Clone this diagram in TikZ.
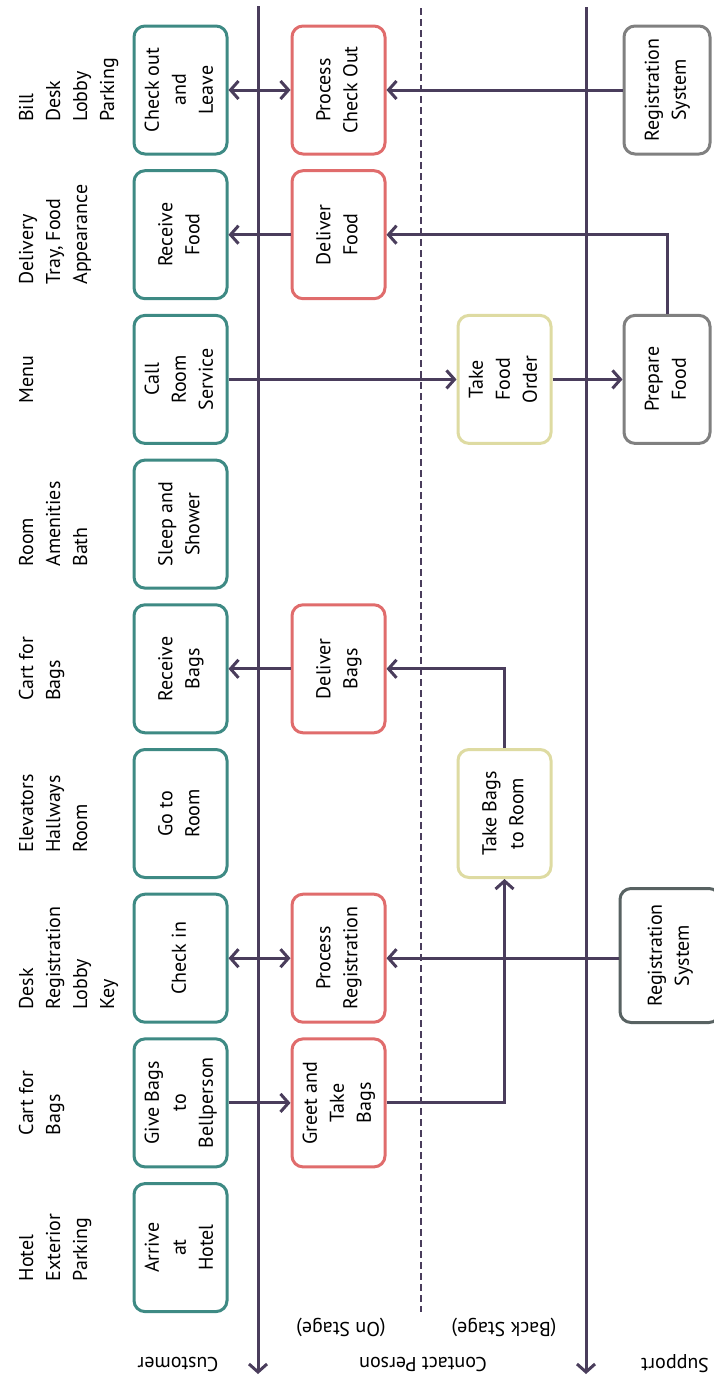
\documentclass[tikz,border=0pt]{standalone}
\usepackage{fontspec}
\setmainfont{PT Sans}
\usepackage{graphicx}
\usetikzlibrary{arrows.meta}
\definecolor{custc}{HTML}{3E8A84}
\definecolor{stagec}{HTML}{E06C6C}
\definecolor{backc}{HTML}{DEDBA2}
\definecolor{suppc}{HTML}{808080}
\definecolor{suppd}{HTML}{586262}
\definecolor{linec}{HTML}{4A3D5C}
\newcommand\rt[1]{\rotatebox{90}{\begin{tabular}{@{}c@{}}#1\end{tabular}}}
\newcommand\rl[1]{\rotatebox{90}{\begin{tabular}{@{}l@{}}#1\end{tabular}}}
\begin{document}
\begin{tikzpicture}[x=1pt,y=-1pt,
  font=\fontsize{20}{27}\selectfont,
  box/.style={draw, rounded corners=11pt, line width=3pt, minimum width=93pt, minimum height=128pt, inner sep=0pt, fill=white},
  cust/.style={box, draw=custc},
  stage/.style={box, draw=stagec},
  backb/.style={box, draw=backc},
  supp/.style={box, draw=suppc, minimum width=86pt},
  suppdark/.style={box, draw=suppd, minimum width=100pt, minimum height=134pt},
  hdr/.style={anchor=west, inner sep=0pt},
  lane/.style={rotate=180, inner sep=0pt},
  conn/.style={line width=3pt, draw=linec},
  arr/.style={conn, -{Straight Barb[length=8pt,width=18pt]}},
  darr/.style={conn, {Straight Barb[length=8pt,width=18pt]}-{Straight Barb[length=8pt,width=18pt]}}
]
\useasboundingbox (0,0) rectangle (713,1376);

% lane lines
\coordinate (loiT) at (258,6);
\coordinate (loiB) at (258,1374);
\coordinate (lovT) at (421,8);
\coordinate (lovB) at (421,1312);
\coordinate (liiT) at (586,7);
\coordinate (liiB) at (586,1374);
\draw[arr] (loiT) -- (loiB);
\draw[arr] (liiT) -- (liiB);
\draw[linec, line width=1.3pt, dash pattern=on 7pt off 4pt] (lovT) -- (lovB);

% headers
\node[hdr] (h8) at (14,1247.6) {\rl{Hotel\\Exterior\\Parking}};
\node[hdr] (h7) at (14,1102.9) {\rl{Cart for\\Bags}};
\node[hdr] (h6) at (14,958.2) {\rl{Desk\\Registration\\Lobby\\Key}};
\node[hdr] (h5) at (14,813.5) {\rl{Elevators\\Hallways\\Room}};
\node[hdr] (h4) at (14,668.8) {\rl{Cart for\\Bags}};
\node[hdr] (h3) at (14,524.1) {\rl{Room\\Amenities\\Bath}};
\node[hdr] (h2) at (14,379.4) {\rl{Menu}};
\node[hdr] (h1) at (14,234.7) {\rl{Delivery\\Tray, Food\\Appearance}};
\node[hdr] (h0) at (14,90) {\rl{Bill\\Desk\\Lobby\\Parking}};

% customer actions
\node[cust] (c8) at (180.5,1247.6) {\rt{Arrive\\at\\Hotel}};
\node[cust] (c7) at (180.5,1102.9) {\rt{Give Bags\\to\\Bellperson}};
\node[cust] (c6) at (180.5,958.2) {\rt{Check in}};
\node[cust] (c5) at (180.5,813.5) {\rt{Go to\\Room}};
\node[cust] (c4) at (180.5,668.8) {\rt{Receive\\Bags}};
\node[cust] (c3) at (180.5,524.1) {\rt{Sleep and\\Shower}};
\node[cust] (c2) at (180.5,379.4) {\rt{Call\\Room\\Service}};
\node[cust] (c1) at (180.5,234.7) {\rt{Receive\\Food}};
\node[cust] (c0) at (180.5,90) {\rt{Check out\\and\\Leave}};

% on stage
\node[stage] (s7) at (338.5,1102.9) {\rt{Greet and\\Take\\Bags}};
\node[stage] (s6) at (338.5,958.2) {\rt{Process\\Registration}};
\node[stage] (s4) at (338.5,668.8) {\rt{Deliver\\Bags}};
\node[stage] (s1) at (338.5,234.7) {\rt{Deliver\\Food}};
\node[stage] (s0) at (338.5,90) {\rt{Process\\Check Out}};

% back stage
\node[backb] (b5) at (504.5,813.5) {\rt{Take Bags\\to Room}};
\node[backb] (b2) at (504.5,379.4) {\rt{Take\\Food\\Order}};

% support
\node[suppdark] (p6) at (670,955.5) {\rt{Registration\\System}};
\node[supp] (p2) at (667,379.4) {\rt{Prepare\\Food}};
\node[supp] (p0) at (667,90) {\rt{Registration\\System}};

% connectors
\draw[darr] (c0.east) -- (s0.west);
\draw[arr] (p0.west) -- (s0.east);
\draw[arr] (s1.west) -- (c1.east);
\draw[arr] (p2.north) |- (s1.east);
\draw[arr] (c2.east) -- (b2.west);
\draw[arr] (b2.east) -- (p2.west);
\draw[arr] (s4.west) -- (c4.east);
\draw[arr] (b5.north) |- (s4.east);
\draw[darr] (c6.east) -- (s6.west);
\draw[arr] (p6.west |- s6.east) -- (s6.east);
\draw[arr] (c7.east) -- (s7.west);
\draw[arr] (s7.east) -| (b5.south);

% lane labels
\node[lane] (lc) at (178,1364) {Customer};
\node[lane] (lp) at (423,1364) {Contact Person};
\node[lane] (lo) at (341,1327) {(On Stage)};
\node[lane] (lb) at (504,1327) {(Back Stage)};
\node[lane] (ls) at (675,1364) {Support};
\end{tikzpicture}
\end{document}
